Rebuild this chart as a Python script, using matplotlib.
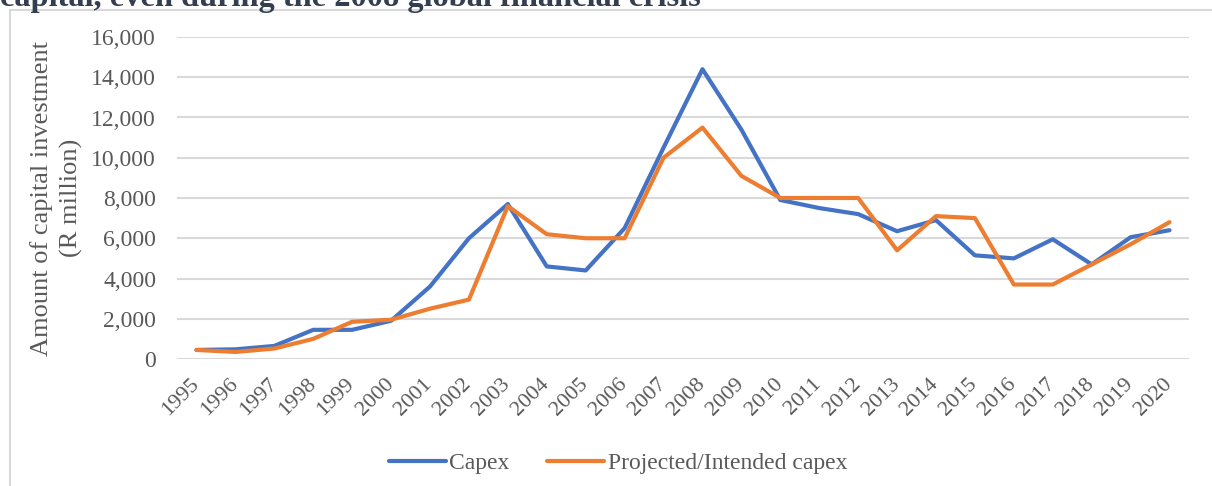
import numpy as np
import matplotlib
matplotlib.use('Agg')
import matplotlib.pyplot as plt
import matplotlib.transforms as mtransforms
from matplotlib.patches import Rectangle

# Dados (R milhoes)
anos = [str(a) for a in range(1995, 2021)]
capex = [450, 480, 650, 1450, 1450, 1900, 3600, 6000, 7700, 4600,
         4400, 6500, 10500, 14400, 11400, 7900, 7500, 7200, 6350, 6900,
         5150, 5000, 5950, 4700, 6050, 6400]
capex_projetado = [450, 350, 520, 1000, 1850, 1950, 2500, 2950, 7600, 6200,
                   6000, 6000, 10000, 11500, 9100, 8000, 8000, 8000, 5400, 7100,
                   7000, 3700, 3700, 4700, 5700, 6800]
yticks = list(range(0, 16001, 2000))

plt.rcParams['font.family'] = ['Liberation Serif', 'DejaVu Serif']
cinza = '#595959'

fig = plt.figure(figsize=(12.12, 4.86), dpi=100)
ax = fig.add_axes([177 / 1212, 1 - 359 / 486, (1189 - 177) / 1212, (359 - 37) / 486])

# moldura do grafico (caixa do Excel)
fig.patches.append(Rectangle((10 / 1212, -0.1), 1.2, 1 - 10 / 486 + 0.1,
                             transform=fig.transFigure, fill=False,
                             edgecolor='#D9D9D9', linewidth=1.5))

# titulo cortado no topo
fig.text(0.0, 1 - 6 / 486, 'capital, even during the 2008 global financial crisis',
         fontsize=23.3, fontweight='bold', color='#333F50', ha='left', va='baseline')

x = np.arange(len(anos))
ax.plot(x, capex, color='#4472C4', linewidth=3, label='Capex', solid_capstyle='round')
ax.plot(x, capex_projetado, color='#ED7D31', linewidth=3, label='Projected/Intended capex',
        solid_capstyle='round')

ax.set_xlim(-0.5, len(anos) - 0.5)
ax.set_ylim(0, 16000)
ax.set_yticks(yticks)
ax.set_yticklabels([f'{v:,}' for v in yticks])
ax.set_xticks(x)
ax.set_xticklabels(anos, rotation=45, ha='right', rotation_mode='anchor')
ax.tick_params(axis='y', length=0, labelsize=17, colors=cinza, pad=15)
ax.tick_params(axis='x', length=0, labelsize=16, colors=cinza, pad=11)
# desloca os anos um pouco para a esquerda
desloc = mtransforms.ScaledTranslation(-7 / 100, 0, fig.dpi_scale_trans)
for lbl in ax.get_xticklabels():
    lbl.set_transform(lbl.get_transform() + desloc)
ax.grid(axis='y', color='#D9D9D9', linewidth=1.5)
ax.set_axisbelow(True)
for s in ax.spines.values():
    s.set_visible(False)

ax.set_ylabel('Amount of capital investment\n(R million)', fontsize=19, color=cinza,
              linespacing=1.4)
ax.yaxis.set_label_coords(-0.093, 0.5)

fig.legend(loc='center', bbox_to_anchor=(0.51, 1 - 463 / 486), ncol=2, frameon=False,
           fontsize=17, labelcolor=cinza, handlelength=2.4, handletextpad=0.15,
           columnspacing=1.6)

fig.savefig('out.png', dpi=100)
